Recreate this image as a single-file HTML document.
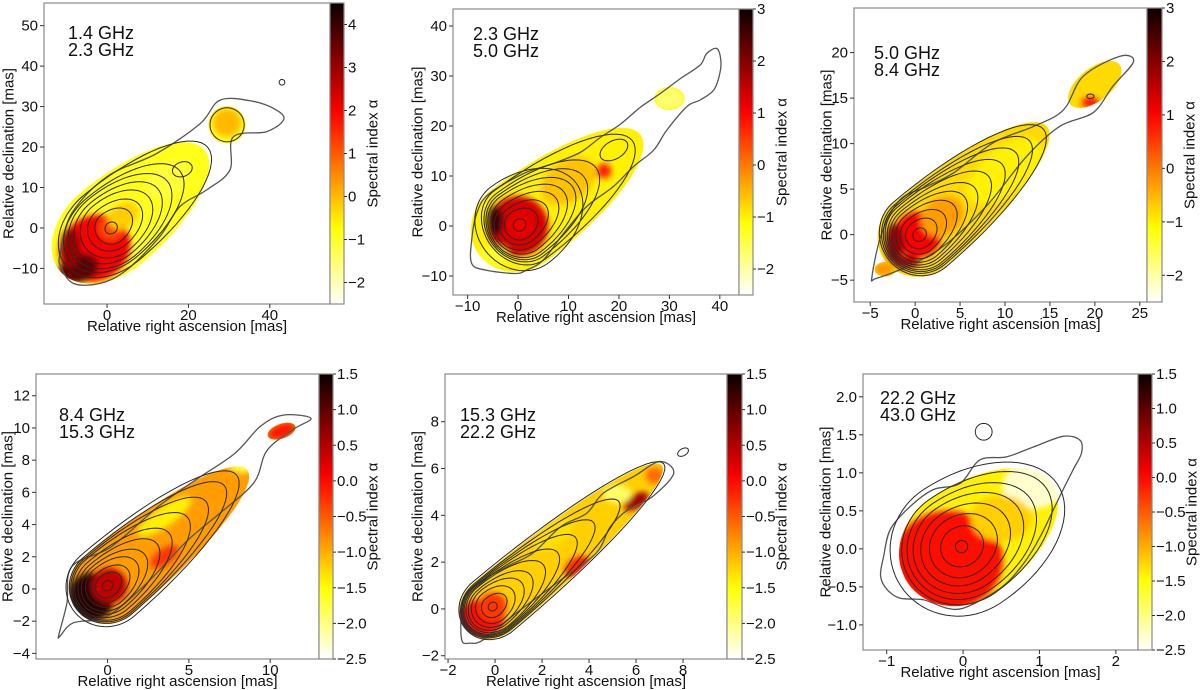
<!DOCTYPE html>
<html><head><meta charset="utf-8"><style>
html,body{margin:0;padding:0;background:#fff;}
svg{display:block;font-family:"Liberation Sans","DejaVu Sans",sans-serif;}
</style></head><body>
<svg id="fig" width="1200" height="690" viewBox="0 0 1200 690" xmlns="http://www.w3.org/2000/svg">
<defs id="defs"></defs>
</svg>
<script>
// ---------- data arrays ----------
// contours & masks: [cx, cy, backRadius, forwardRadius, halfWidth, angleDeg]
// blobs: [cx, cy, rx, ry, angleDeg, alpha]
const p1Freqs = ["1.4 GHz", "2.3 GHz"];
const p1XTicks = [0, 20, 40];
const p1YTicks = [-10, 0, 10, 20, 30, 40, 50];
const p1CbTicks = [-2, -1, 0, 1, 2, 3, 4];
const p1CbRange = [-2.5, 4.5];
const p1Outer = [[-11.5,-6.3],[-8.7,3.6],[0,12.7],[12.2,18.4],[22.9,25.8],[27.8,31.6],[35.9,31.3],[41.7,29.1],[43.4,26.7],[39.2,23.8],[31.0,22.5],[30.2,14.3],[24.5,9.4],[17.9,5.3],[13.0,-2.1],[4.8,-10.4],[-1.7,-13.7],[-8.3,-13.7],[-11.4,-9.5]];
const p1Contours = [[1,0,1.6,1.6,1.4,40],[1,0,4,6,4,40],[1,0,6,9,5.5,40],[1,0,8,12,7,40],[1,0,10,15,8,40],[1,0,11.5,18,9,40],[1,0,13,22,9.5,40],[1,0,14.5,31,10.5,40],[18.5,14.5,2.5,2.5,1.8,20],[29.5,25.5,4.2,4.2,4.2,0],[43,36,0.7,0.7,0.7,0]];
const p1Mask = [[1,0,16.5,30,11.5,40],[29.5,25.5,4.6,4.6,4.6,0]];
const p1Base = -0.9;
const p1Blobs = [[-3,-5,9,8,30,2.0],[-7,-10,5,3.5,15,3.6],[-9,-5,2.5,5,0,3.0],[1,0,3,3,0,1.2],[4,3,4,3,35,-0.2],[29.5,26,3.5,3.5,0,0.0],[15,12,6,4,35,-1.1]];

const p2Freqs = ["2.3 GHz", "5.0 GHz"];
const p2XTicks = [-10, 0, 10, 20, 30, 40];
const p2YTicks = [-10, 0, 10, 20, 30, 40];
const p2CbTicks = [-2, -1, 0, 1, 2, 3];
const p2CbRange = [-2.5, 3];
const p2Outer = [[-9.2,-7.5],[-9.2,-2.8],[-8.2,2.5],[-5.9,6.3],[1.1,10.5],[7.0,12.5],[12.3,14.7],[16.3,17.7],[20.2,20.3],[24.2,23.7],[28.2,26.5],[32.2,29.5],[36.1,32.2],[37.4,34.5],[39.4,35.5],[40.2,33.2],[40.0,30.5],[38.8,27.2],[36.1,25.2],[33.5,23.9],[29.5,19.2],[26.9,15.2],[22.9,11.9],[18.9,7.9],[13.6,3.9],[9.0,-1.5],[5.0,-6.8],[1.7,-8.8],[-0.6,-9.5],[-6.5,-8.8]];
const p2Contours = [[0.3,0.2,1.3,1.3,1.2,37],[0.3,0.2,3,4,3,37],[0.3,0.2,4,6.5,4,37],[0.3,0.2,5,9,5,37],[0.3,0.2,5.5,11,6,37],[0.3,0.2,6,13,6.8,37],[0.3,0.2,6.3,16,7.3,37],[0.3,0.2,6.6,19,7.8,37],[0.3,0.2,7,28,8.5,37],[19,15.2,3,3,1.8,30],[0.3,0.2,8.5,14,9.5,37]];
const p2Mask = [[0.3,0.2,10,30,9,37],[30,25.5,3,3,2.3,0]];
const p2Base = -1.0;
const p2Blobs = [[0,0,6,6,0,1.3],[-4.5,1,1.5,3,0,2.6],[0.4,0.2,2,2,0,1.1],[-5,-6,3,2,0,-1.3],[10,9,6,4,35,-0.6],[17,11,1.5,1.5,0,0.7],[30,25.5,3,2.3,0,-1.7]];

const p3Freqs = ["5.0 GHz", "8.4 GHz"];
const p3XTicks = [-5, 0, 5, 10, 15, 20, 25];
const p3YTicks = [-5, 0, 5, 10, 15, 20];
const p3CbTicks = [-2, -1, 0, 1, 2, 3];
const p3CbRange = [-2.5, 3];
const p3Outer = [[-4.8,-4.6],[-3.7,0.2],[-1.7,3.8],[1.3,5.3],[4.3,6.8],[8.7,10.1],[13.2,11.9],[16.5,13.7],[18.7,17.4],[22.8,19.6],[24.3,19.0],[22.0,16.3],[19.8,13.4],[16.1,11.9],[12.4,8.6],[7.9,3.1],[3.1,-1.3],[-0.9,-3.5],[-4.3,-4.8]];
const p3Contours = [[0.5,0,0.8,0.8,0.7,40],[0.5,0,1.6,2.2,1.5,40],[0.5,0,2.2,3.5,2.1,40],[0.5,0,2.7,5,2.6,40],[0.5,0,3.1,6.5,3,40],[0.5,0,3.4,8,3.3,40],[0.5,0,3.6,10,3.6,40],[0.5,0,3.8,12,3.9,40],[0.5,0,4,14,4.1,40],[0.5,0,4.2,16,4.3,40],[0.5,0,4.4,18,4.6,40],[19.5,15.2,0.4,0.4,0.25,0]];
const p3Mask = [[0.5,0,4.8,18.5,4.5,40],[20,16.5,3.5,3.5,1.8,38],[-3.3,-3.8,1.2,1.2,0.8,0]];
const p3Base = -0.8;
const p3Blobs = [[0.3,0,2.6,2.5,0,1.0],[-2.3,-1,1,2.2,0,1.8],[-1,-3,1.5,0.7,0,1.5],[10,7,5,2.5,38,-1.0],[19.5,14.5,1,0.6,0,0.8],[-3.5,-3.8,1,0.7,0,-0.2],[3,2,2.5,2,40,-0.3]];

const p4Freqs = ["8.4 GHz", "15.3 GHz"];
const p4XTicks = [0, 5, 10];
const p4YTicks = [-4, -2, 0, 2, 4, 6, 8, 10, 12];
const p4CbTicks = [-2.5, -2.0, -1.5, -1.0, -0.5, 0.0, 0.5, 1.0, 1.5];
const p4CbRange = [-2.5, 1.5];
const p4Outer = [[-3.0,-2.86],[-2.5,-0.89],[-2.2,1.39],[0.2,2.6],[3.1,5.1],[5.3,6.7],[7.8,8.4],[9.4,10.1],[10.8,10.8],[12.5,10.6],[11.4,9.9],[9.8,8.6],[9.0,6.6],[6.9,4.7],[4.9,3.0],[2.4,0.35],[-0.03,-1.7],[-2.1,-2.1],[-2.9,-2.9]];
const p4Contours = [[0,0.2,0.35,0.35,0.3,41],[0,0.2,0.8,1.0,0.7,41],[0,0.2,1.1,1.6,1.0,41],[0,0.2,1.4,2.3,1.3,41],[0,0.2,1.7,3.0,1.5,41],[0,0.2,1.9,4,1.7,41],[0,0.2,2.1,5,1.9,41],[0,0.2,2.2,6.5,2.1,41],[0,0.2,2.3,8,2.2,41],[0,0.2,2.4,9.5,2.3,41],[0,0.2,2.6,10.5,2.5,41]];
const p4Mask = [[0,0.2,2.4,11.2,2.3,40],[10.7,9.8,0.9,0.9,0.45,20]];
const p4Base = -0.9;
const p4Blobs = [[-1,-0.5,1.4,1.5,0,1.3],[0.1,0.2,1.1,1.1,0,0.4],[8.3,8,1,0.8,0,-1.7],[3.5,4.5,2,0.6,35,-1.4],[10.7,9.8,0.9,0.45,20,-0.1],[3.5,2,1,0.5,35,-0.3]];

const p5Freqs = ["15.3 GHz", "22.2 GHz"];
const p5XTicks = [-2, 0, 2, 4, 6, 8];
const p5YTicks = [-2, 0, 2, 4, 6, 8];
const p5CbTicks = [-2.5, -2.0, -1.5, -1.0, -0.5, 0.0, 0.5, 1.0, 1.5];
const p5CbRange = [-2.5, 1.5];
const p5Outer = [[-1.42,-1.32],[-1.42,-0.04],[-1.2,0.67],[-0.5,1.24],[0.5,1.81],[1.6,2.38],[2.8,3.52],[3.9,4.09],[4.6,4.94],[5.9,5.66],[7.0,6.3],[7.6,5.8],[6.7,4.8],[5.6,4.2],[4.9,3.5],[4.3,2.38],[2.8,1.24],[0.9,-0.18],[-0.5,-1.32],[-1.06,-1.46]];
const p5Contours = [[-0.1,0.1,0.2,0.2,0.18,40],[-0.1,0.1,0.5,0.7,0.45,40],[-0.1,0.1,0.75,1.1,0.7,40],[-0.1,0.1,0.95,1.6,0.85,40],[-0.1,0.1,1.1,2.1,0.95,40],[-0.1,0.1,1.2,2.8,1.05,40],[-0.1,0.1,1.3,3.6,1.1,40],[-0.1,0.1,1.35,4.6,1.15,40],[-0.1,0.1,1.4,5.6,1.2,40],[-0.1,0.1,1.45,7,1.25,40],[-0.1,0.1,1.5,9.5,1.35,40],[8,6.7,0.25,0.25,0.15,30]];
const p5Mask = [[-0.1,0.1,1.5,9.4,1.3,40]];
const p5Base = -1.2;
const p5Blobs = [[-0.6,-0.4,1,0.8,0,0.0],[-0.1,0.1,0.6,0.6,0,-0.3],[3.5,1.8,0.6,0.4,35,-0.2],[6,4.6,0.6,0.3,30,0.6],[6.8,5.7,0.4,0.35,0,-0.6],[5.2,4.9,0.6,0.4,0,-1.9],[2.5,3.2,1,0.5,35,-1.3]];

const p6Freqs = ["22.2 GHz", "43.0 GHz"];
const p6XTicks = [-1, 0, 1, 2];
const p6YTicks = [-1.0, -0.5, 0.0, 0.5, 1.0, 1.5, 2.0];
const p6CbTicks = [-2.5, -2.0, -1.5, -1.0, -0.5, 0.0, 0.5, 1.0, 1.5];
const p6CbRange = [-2.5, 1.5];
const p6Outer = [[-1.08,-0.36],[-1.04,-0.1],[-0.95,0.26],[-0.69,0.56],[-0.39,0.78],[-0.04,0.86],[0.22,1.17],[0.57,1.21],[0.92,1.34],[1.31,1.48],[1.53,1.43],[1.55,1.26],[1.44,1.04],[1.31,0.78],[1.18,0.51],[1.01,0.16],[0.83,-0.14],[0.57,-0.45],[0.31,-0.63],[0.0,-0.78],[-0.21,-0.78],[-0.52,-0.67],[-0.82,-0.65],[-0.99,-0.54]];
const p6Contours = [[-0.02,0.03,0.08,0.08,0.08,35],[-0.02,0.03,0.28,0.3,0.26,35],[-0.02,0.03,0.43,0.5,0.4,35],[-0.02,0.03,0.55,0.7,0.5,35],[-0.02,0.03,0.65,0.9,0.6,35],[-0.02,0.03,0.73,1.1,0.68,35],[-0.02,0.03,0.8,1.35,0.75,35],[-0.02,0.03,0.95,1.5,0.9,33],[0.27,1.54,0.11,0.11,0.11,0]];
const p6Mask = [[-0.02,0.03,0.85,1.45,0.75,35]];
const p6Base = -1.4;
const p6Blobs = [[-0.2,-0.15,0.72,0.65,0,0.0],[1.0,0.9,0.5,0.35,20,-2.3],[0.5,0.4,0.4,0.3,0,-1.2]];

// ---------- layout (pixel geometry) ----------
const layout = [
 {box:[44,3,330,304], xlim:[-15.5,54.8], ylim:[-18.8,55.6], cbW:14, ylabOff:35, cbLabOff:29, txt:[68,39], blur:3, cbDec:0},
 {box:[453,9,739,295], xlim:[-12.9,43.8], ylim:[-13.8,43.4], cbW:14, ylabOff:35, cbLabOff:29, txt:[473,40], blur:3, cbDec:0},
 {box:[854,8,1147,302], xlim:[-6.8,25.8], ylim:[-7.4,24.9], cbW:15, ylabOff:27, cbLabOff:28, txt:[874,59], blur:3, cbDec:0},
 {box:[36,374,319,659], xlim:[-4.4,13.0], ylim:[-4.35,13.35], cbW:14, ylabOff:28, cbLabOff:40, txt:[59,421], blur:3, cbDec:1},
 {box:[445,374,727,659], xlim:[-2.13,9.87], ylim:[-2.14,10.04], cbW:15, ylabOff:27, cbLabOff:40, txt:[460,421], blur:3, cbDec:1},
 {box:[863,374,1138,650], xlim:[-1.31,2.29], ylim:[-1.33,2.3], cbW:14, ylabOff:37, cbLabOff:40, txt:[880,404], blur:3, cbDec:1, ydec:1}
];
const panelData = [
 [p1Freqs,p1XTicks,p1YTicks,p1CbTicks,p1CbRange,p1Outer,p1Contours,p1Mask,p1Base,p1Blobs],
 [p2Freqs,p2XTicks,p2YTicks,p2CbTicks,p2CbRange,p2Outer,p2Contours,p2Mask,p2Base,p2Blobs],
 [p3Freqs,p3XTicks,p3YTicks,p3CbTicks,p3CbRange,p3Outer,p3Contours,p3Mask,p3Base,p3Blobs],
 [p4Freqs,p4XTicks,p4YTicks,p4CbTicks,p4CbRange,p4Outer,p4Contours,p4Mask,p4Base,p4Blobs],
 [p5Freqs,p5XTicks,p5YTicks,p5CbTicks,p5CbRange,p5Outer,p5Contours,p5Mask,p5Base,p5Blobs],
 [p6Freqs,p6XTicks,p6YTicks,p6CbTicks,p6CbRange,p6Outer,p6Contours,p6Mask,p6Base,p6Blobs]
];

const NS = "http://www.w3.org/2000/svg";
const svg = document.getElementById("fig");
const defs = document.getElementById("defs");
function mk(tag, attrs, parent){
  const e = document.createElementNS(NS, tag);
  for (const k in attrs) e.setAttribute(k, attrs[k]);
  (parent||svg).appendChild(e);
  return e;
}
function clamp(v){ return Math.max(0, Math.min(1, v)); }
function hot(s){
  const r = clamp(0.0416 + s/0.365*(1-0.0416));
  const g = clamp((s-0.365)/(0.746-0.365));
  const b = clamp((s-0.746)/0.254);
  return "rgb("+Math.round(r*255)+","+Math.round(g*255)+","+Math.round(b*255)+")";
}
function cmap(v, range){ const t = (v-range[0])/(range[1]-range[0]); return hot(1-clamp(t)); }
function fmt(v, d){ const s = v.toFixed(d); return s.replace("-", "\u2212"); }
function smoothPath(pts){
  const n = pts.length; let d = "M"+pts[0][0].toFixed(1)+","+pts[0][1].toFixed(1);
  for (let i=0;i<n;i++){
    const p0=pts[(i-1+n)%n], p1=pts[i], p2=pts[(i+1)%n], p3=pts[(i+2)%n];
    const c1=[p1[0]+(p2[0]-p0[0])/6, p1[1]+(p2[1]-p0[1])/6];
    const c2=[p2[0]-(p3[0]-p1[0])/6, p2[1]-(p3[1]-p1[1])/6];
    d += "C"+c1[0].toFixed(1)+","+c1[1].toFixed(1)+" "+c2[0].toFixed(1)+","+c2[1].toFixed(1)+" "+p2[0].toFixed(1)+","+p2[1].toFixed(1);
  }
  return d+"Z";
}
function eggPath(c, sx, sy){
  const [cx,cy,rb,rf,w,ang] = c;
  const a = ang*Math.PI/180, ca=Math.cos(a), sa=Math.sin(a);
  let d = "";
  for (let k=0;k<=72;k++){
    const t = k/72*2*Math.PI;
    const ct = Math.cos(t), st = Math.sin(t);
    const u = ct*(ct>0?rf:rb), v = st*w;
    const X = sx(cx + u*ca - v*sa), Y = sy(cy + u*sa + v*ca);
    d += (k?"L":"M")+X.toFixed(1)+","+Y.toFixed(1);
  }
  return d+"Z";
}

layout.forEach((L, i) => {
  const [freqs,xTicks,yTicks,cbTicks,cbRange,outer,contours,mask,base,blobs] = panelData[i];
  const [x0,y0,x1,y1] = L.box;
  const kx = (x1-x0)/(L.xlim[1]-L.xlim[0]);
  const ky = (y1-y0)/(L.ylim[1]-L.ylim[0]);
  const sx = v => x0 + (v-L.xlim[0])*kx;
  const sy = v => y1 - (v-L.ylim[0])*ky;
  const id = "p"+(i+1);

  const g = mk("g", {});
  
  

  const cpBox = mk("clipPath", {id:id+"box"}, defs);
  mk("rect", {x:x0, y:y0, width:x1-x0, height:y1-y0}, cpBox);
  const cpMask = mk("clipPath", {id:id+"mask"}, defs);
  mask.forEach(m => mk("path", {d:eggPath(m, sx, sy)}, cpMask));
  const flt = mk("filter", {id:id+"blur", x:"-50%", y:"-50%", width:"200%", height:"200%"}, defs);
  mk("feGaussianBlur", {stdDeviation:L.blur}, flt);

  const plot = mk("g", {"clip-path":"url(#"+id+"box)"}, g);
  const img = mk("g", {"clip-path":"url(#"+id+"mask)"}, plot);
  
  
  mk("rect", {x:x0, y:y0, width:x1-x0, height:y1-y0, fill:cmap(base, cbRange)}, img);
  const bg = mk("g", {filter:"url(#"+id+"blur)"}, img);
  blobs.forEach(b => {
    const e = mk("ellipse", {cx:sx(b[0]), cy:sy(b[1]), rx:b[2]*kx, ry:b[3]*ky, transform:"rotate("+(-b[4])+" "+sx(b[0])+" "+sy(b[1])+")", fill:cmap(b[5], cbRange)}, bg);
    
    
  });

  const oc = mk("path", {d:smoothPath(outer.map(p=>[sx(p[0]),sy(p[1])])), fill:"none", stroke:"#555", "stroke-width":1.3}, plot);
  
  
  contours.forEach(c => {
    const e = mk("path", {d:eggPath(c, sx, sy), fill:"none", stroke:"#2a2a2a", "stroke-width":1}, plot);
    
    
  });

  const fr = mk("rect", {x:x0, y:y0, width:x1-x0, height:y1-y0, fill:"none", stroke:"#8a8a8a", "stroke-width":1.2}, g);
  
  

  xTicks.forEach(t => {
    const X = sx(t);
    mk("line", {x1:X, y1:y1, x2:X, y2:y1+4, stroke:"#333", "stroke-width":1}, g);
    const tx = mk("text", {x:X, y:y1+16, "text-anchor":"middle", "font-size":15, fill:"#111"}, g);
    tx.textContent = fmt(t, 0);
    
    
  });
  yTicks.forEach(t => {
    const Y = sy(t);
    mk("line", {x1:x0-4, y1:Y, x2:x0, y2:Y, stroke:"#333", "stroke-width":1}, g);
    const tx = mk("text", {x:x0-6, y:Y+5, "text-anchor":"end", "font-size":15, fill:"#111"}, g);
    tx.textContent = fmt(t, L.ydec||0);
    
    
  });
  const xl = mk("text", {x:(x0+x1)/2, y:y1+27, "text-anchor":"middle", "font-size":15, fill:"#111"}, g);
  xl.textContent = "Relative right ascension [mas]";
  
  
  const yx = x0-L.ylabOff, yy=(y0+y1)/2;
  const yl = mk("text", {x:yx, y:yy, "text-anchor":"middle", "dominant-baseline":"central", "font-size":15, fill:"#111", transform:"rotate(-90 "+yx+" "+yy+")"}, g);
  yl.textContent = "Relative declination [mas]";
  
  

  freqs.forEach((f, j) => {
    const t = mk("text", {x:L.txt[0], y:L.txt[1]+j*17, "font-size":18, fill:"#111"}, g);
    t.textContent = f;
    
    
  });

  const cx1 = x1+L.cbW;
  const grad = mk("linearGradient", {id:id+"grad", x1:0, y1:1, x2:0, y2:0}, defs);
  for (let k=0;k<=20;k++){
    const v = cbRange[0] + (cbRange[1]-cbRange[0])*k/20;
    mk("stop", {offset:(k/20), "stop-color":cmap(v, cbRange)}, grad);
  }
  const cb = mk("rect", {x:x1, y:y0, width:L.cbW, height:y1-y0, fill:"url(#"+id+"grad)", stroke:"#8a8a8a", "stroke-width":1.2}, g);
  
  
  const cy = v => y1 - (v-cbRange[0])/(cbRange[1]-cbRange[0])*(y1-y0);
  cbTicks.forEach(t => {
    const Y = cy(t);
    mk("line", {x1:cx1, y1:Y, x2:cx1+3, y2:Y, stroke:"#333", "stroke-width":1}, g);
    const tx = mk("text", {x:cx1+4, y:Y+5, "font-size":15, fill:"#111"}, g);
    tx.textContent = fmt(t, L.cbDec);
    
    
  });
  const lx = cx1+L.cbLabOff, ly=(y0+y1)/2;
  const cl = mk("text", {x:lx, y:ly, "text-anchor":"middle", "dominant-baseline":"central", "font-size":15, fill:"#111", transform:"rotate(-90 "+lx+" "+ly+")"}, g);
  cl.textContent = "Spectral index \u03b1";
  
  
});
</script>
</body></html>
